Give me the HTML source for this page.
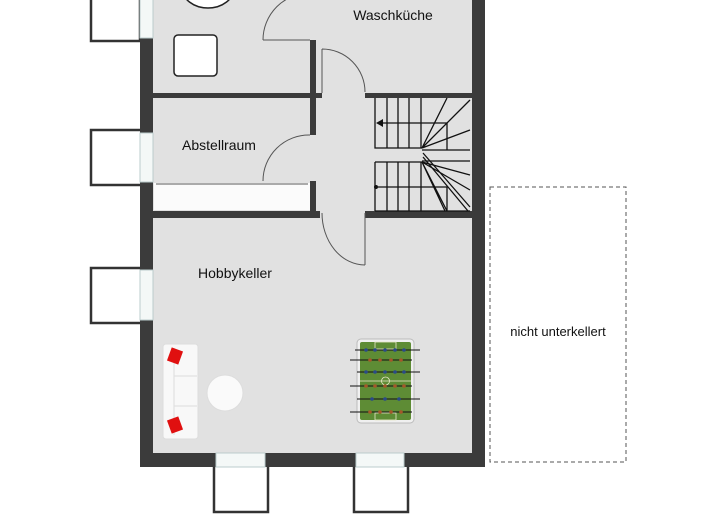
<!DOCTYPE html>
<html><head><meta charset="utf-8"><style>
html,body{margin:0;padding:0;background:#fff;width:720px;height:530px;overflow:hidden}
text{font-family:"Liberation Sans",sans-serif;fill:#111}
</style></head><body>
<svg width="720" height="530" viewBox="0 0 720 530" xmlns="http://www.w3.org/2000/svg">
<!-- window wells -->
<g fill="#fff" stroke="#333" stroke-width="2.5">
<path d="M140 -2 V41 H91 V-2"/>
<path d="M140 130 H91 V185 H140"/>
<path d="M140 268 H91 V323 H140"/>
<path d="M214 467 V512 H268 V467"/>
<path d="M354 467 V512 H408 V467"/>
</g>
<!-- floor -->
<rect x="140" y="-5" width="345" height="472" fill="#3b3b3b"/>
<rect x="153" y="-5" width="319" height="458" fill="#e1e1e1"/>
<!-- windows -->
<g fill="#f4f8f7" stroke="#bcc" stroke-width="1">
<rect x="140" y="-5" width="13" height="43"/>
<rect x="140" y="133" width="13" height="49"/>
<rect x="140" y="270" width="13" height="50"/>
<rect x="216" y="453" width="49" height="14"/>
<rect x="356" y="453" width="48" height="14"/>
</g>
<!-- interior walls -->
<g fill="#3b3b3b">
<rect x="153" y="93" width="169" height="5"/>
<rect x="310" y="40" width="6" height="95"/>
<rect x="310" y="181" width="6" height="32"/>
<rect x="365" y="93" width="107" height="5"/>
<rect x="153" y="211" width="167" height="7"/>
<rect x="365" y="211" width="107" height="7"/>
</g>
<!-- cabinet -->
<rect x="154" y="183" width="156" height="27" fill="#fbfbfb"/>
<line x1="156" y1="184" x2="308" y2="184" stroke="#aaa" stroke-width="2"/>
<!-- doors -->
<g fill="none" stroke="#555" stroke-width="1">
<path d="M263 40 H310 M263 40 A47 47 0 0 1 310 -7"/>
<path d="M263 181 A46 46 0 0 1 310 135"/>
<path d="M322 49 V93 M322 49 A43 43 0 0 1 365 92"/>
<path d="M365 213 V265 M322 213 A43 52 0 0 0 365 265"/>
</g>
<!-- top-left fixtures -->
<ellipse cx="208" cy="-12" rx="26" ry="20" fill="#fff" stroke="#222" stroke-width="1.5"/>
<rect x="174" y="35" width="43" height="41" rx="4" fill="#fff" stroke="#222" stroke-width="1.5"/>
<!-- stairs -->
<g stroke="#111" stroke-width="1.3" fill="none">
<rect x="375" y="98" width="95" height="113" fill="#e1e1e1" stroke="none"/>
<path d="M375 98 V148 H422 M387 98 V148 M398 98 V148 M409 98 V148 M421 98 V148"/>
<path d="M375 162 H422 M375 162 V211 M387 162 V211 M398 162 V211 M409 162 V211 M421 162 V211"/>
<path d="M378 123 H447 V150 M378 187 H447 V211"/>
<path d="M422 150 H470 M422 161 H470"/>
<path d="M422 148 L447 98 M422 148 L470 100 M422 148 L470 130 M422 148 L447 123"/>
<path d="M422 162 L470 175 M422 162 L470 190 M422 162 L447 211 M422 162 L445 211"/>
<path d="M423 153 L470 207 M423 157 L468 211"/>
<path d="M375 211 H470"/>
</g>
<path d="M376 123 L383 119 L383 127 Z" fill="#111"/>
<circle cx="376" cy="187" r="2" fill="#111"/>
<!-- labels -->
<text x="393" y="20" font-size="14" text-anchor="middle">Waschküche</text>
<text x="219" y="150" font-size="14" text-anchor="middle">Abstellraum</text>
<text x="235" y="278" font-size="14" text-anchor="middle">Hobbykeller</text>
<text x="558" y="336" font-size="13" text-anchor="middle">nicht unterkellert</text>
<!-- dashed -->
<rect x="490" y="187" width="136" height="275" fill="none" stroke="#555" stroke-width="1" stroke-dasharray="4,3"/>
<!-- sofa -->
<rect x="163" y="344" width="35" height="95" rx="3" fill="#f8f8f8" stroke="#ddd"/>
<line x1="174" y1="376" x2="197" y2="376" stroke="#ddd"/>
<line x1="174" y1="406" x2="197" y2="406" stroke="#ddd"/>
<line x1="174" y1="348" x2="174" y2="435" stroke="#ddd"/>
<rect x="169" y="349" width="12" height="14" fill="#e01010" transform="rotate(20 175 356)"/>
<rect x="169" y="418" width="12" height="14" fill="#e01010" transform="rotate(-20 175 425)"/>
<circle cx="225" cy="393" r="18" fill="#fafafa" stroke="#ddd"/>
<!-- foosball -->
<rect x="357" y="339" width="57" height="84" rx="4" fill="#f0f0f0" stroke="#bbb"/>
<rect x="360" y="342" width="51" height="78" rx="2" fill="#5e8c35"/>
<g stroke="#e8e8c8" stroke-width="0.8" fill="none">
<line x1="360" y1="381" x2="411" y2="381"/><circle cx="385.5" cy="381" r="4"/>
<rect x="375" y="342" width="21" height="7"/><rect x="375" y="413" width="21" height="7"/>
</g>
<g stroke="#111" stroke-width="1">
<line x1="355" y1="350" x2="420" y2="350"/><line x1="350" y1="360" x2="412" y2="360"/>
<line x1="357" y1="372" x2="420" y2="372"/><line x1="350" y1="386" x2="412" y2="386"/>
<line x1="357" y1="399" x2="420" y2="399"/><line x1="350" y1="412" x2="412" y2="412"/>
</g>
<g fill="#2a4a8a"><circle cx="366" cy="350" r="1.8"/><circle cx="375" cy="350" r="1.8"/><circle cx="385" cy="350" r="1.8"/><circle cx="395" cy="350" r="1.8"/><circle cx="404" cy="350" r="1.8"/>
<circle cx="366" cy="372" r="1.8"/><circle cx="375" cy="372" r="1.8"/><circle cx="385" cy="372" r="1.8"/><circle cx="395" cy="372" r="1.8"/><circle cx="404" cy="372" r="1.8"/>
<circle cx="372" cy="399" r="1.8"/><circle cx="385" cy="399" r="1.8"/><circle cx="399" cy="399" r="1.8"/></g>
<g fill="#a5582a"><circle cx="370" cy="360" r="1.8"/><circle cx="380" cy="360" r="1.8"/><circle cx="391" cy="360" r="1.8"/><circle cx="401" cy="360" r="1.8"/>
<circle cx="366" cy="386" r="1.8"/><circle cx="375" cy="386" r="1.8"/><circle cx="385" cy="386" r="1.8"/><circle cx="395" cy="386" r="1.8"/><circle cx="404" cy="386" r="1.8"/>
<circle cx="370" cy="412" r="1.8"/><circle cx="380" cy="412" r="1.8"/><circle cx="391" cy="412" r="1.8"/><circle cx="401" cy="412" r="1.8"/></g>
</svg>
</body></html>
